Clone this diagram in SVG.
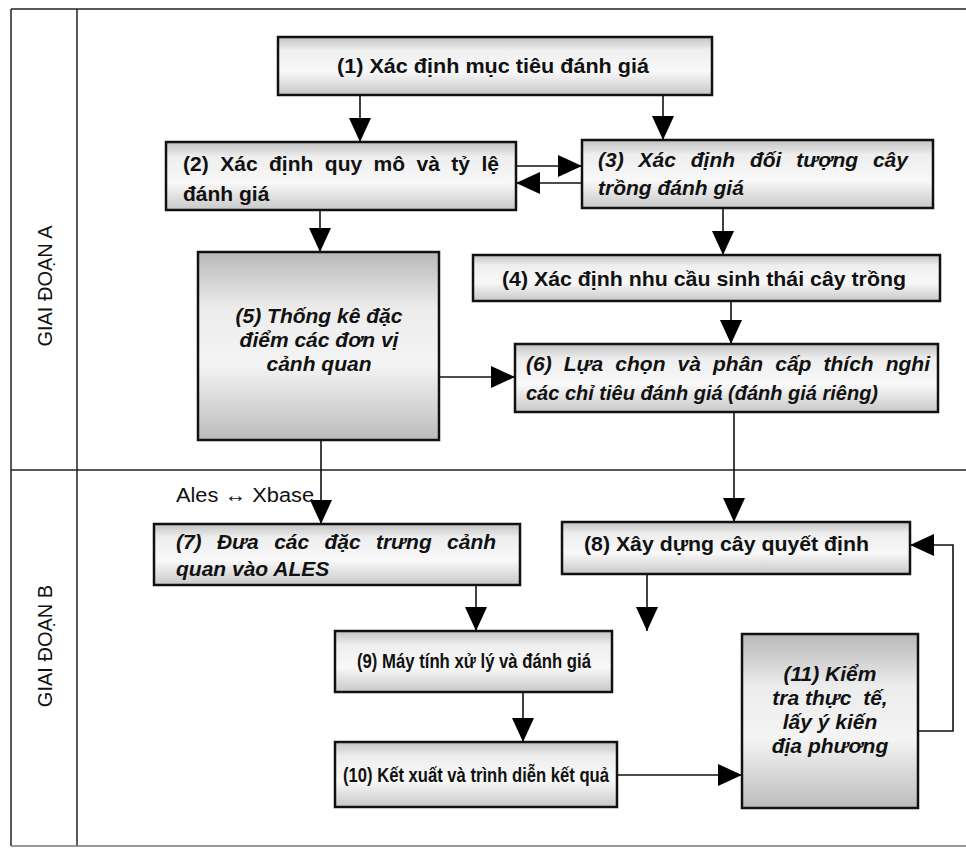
<svg xmlns="http://www.w3.org/2000/svg" width="966" height="848" viewBox="0 0 966 848">
<defs>
<linearGradient id="gfill" x1="0" y1="0" x2="0" y2="1">
<stop offset="0" stop-color="#c2c2c2"/>
<stop offset="0.22" stop-color="#eeeeee"/>
<stop offset="0.6" stop-color="#f8f8f8"/>
<stop offset="1" stop-color="#c8c8c8"/>
</linearGradient>
<linearGradient id="gfill2" x1="0" y1="0" x2="0" y2="1">
<stop offset="0" stop-color="#b8b8b8"/>
<stop offset="0.3" stop-color="#ececec"/>
<stop offset="0.6" stop-color="#f4f4f4"/>
<stop offset="1" stop-color="#bcbcbc"/>
</linearGradient>
<marker id="ah" markerUnits="userSpaceOnUse" markerWidth="24" markerHeight="22" refX="24" refY="11" orient="auto">
<path d="M0,0 L24,11 L0,22 z" fill="#000"/>
</marker>
</defs>
<style>
.box{fill:url(#gfill);stroke:#111;stroke-width:2.5}
.big{fill:url(#gfill2)}
.t{font-family:"Liberation Sans",Arial,sans-serif;font-size:21px;font-weight:bold;fill:#111}
.s{font-family:"Liberation Sans Narrow","Arial Narrow","Liberation Sans",sans-serif;font-size:21px}
.i{font-style:italic}
.c{text-anchor:middle}
.lane{stroke:#222;stroke-width:1.5;fill:none}
.lab{font-family:"Liberation Sans",Arial,sans-serif;font-size:20px;fill:#111}
.conn line,.conn polyline{stroke:#111;stroke-width:1.6;fill:none;marker-end:url(#ah)}
</style>
<rect width="966" height="848" fill="#fff"/>
<g id="lanes">
<line class="lane" x1="11" y1="9" x2="966" y2="9"/>
<line class="lane" x1="11" y1="9" x2="11" y2="846"/>
<line class="lane" x1="77" y1="9" x2="77" y2="846"/>
<line class="lane" x1="11" y1="470" x2="966" y2="470"/>
<line class="lane" x1="11" y1="846" x2="966" y2="846" style="stroke:#777"/>
<text class="lab c" transform="translate(52,286) rotate(-90)">GIAI ĐOẠN A</text>
<text class="lab c" transform="translate(52,646) rotate(-90)">GIAI ĐOẠN B</text>
</g>
<g class="conn" id="connectors">
<line x1="360" y1="95" x2="360" y2="142"/>
<line x1="663" y1="95" x2="663" y2="140"/>
<line x1="516" y1="166" x2="582" y2="166"/>
<line x1="582" y1="183" x2="516" y2="183"/>
<line x1="320" y1="210" x2="320" y2="252"/>
<line x1="723" y1="208" x2="723" y2="255"/>
<line x1="731" y1="301" x2="731" y2="344"/>
<line x1="439" y1="377" x2="515" y2="377"/>
<line x1="321" y1="440" x2="321" y2="524"/>
<line x1="734" y1="412" x2="734" y2="522"/>
<line x1="476" y1="585" x2="476" y2="631"/>
<line x1="647" y1="574" x2="647" y2="631"/>
<line x1="523" y1="692" x2="523" y2="742"/>
<line x1="617" y1="775" x2="742" y2="775"/>
<polyline points="918,731 953,731 953,545 910,545"/>
</g>
<text class="lab" x="176" y="502" textLength="138" lengthAdjust="spacingAndGlyphs">Ales ↔ Xbase</text>
<g id="n1"><rect class="box" x="278" y="37" width="434" height="58"/>
<text class="t c" x="493" y="73" textLength="312" lengthAdjust="spacingAndGlyphs">(1) Xác định mục tiêu đánh giá</text></g>
<g id="n2"><rect class="box" x="166" y="142" width="350" height="68"/>
<text class="t" x="183" y="171" style="word-spacing:5.5px" textLength="316" lengthAdjust="spacing">(2) Xác định quy mô và tỷ lệ</text>
<text class="t" x="183" y="201">đánh giá</text></g>
<g id="n3"><rect class="box" x="582" y="140" width="351" height="68"/>
<text class="t i" x="598" y="167" style="word-spacing:9px" textLength="310" lengthAdjust="spacing">(3) Xác định đối tượng cây</text>
<text class="t i" x="598" y="195">trồng đánh giá</text></g>
<g id="n4"><rect class="box" x="473" y="255" width="467" height="46"/>
<text class="t c" x="704" y="286" textLength="404" lengthAdjust="spacingAndGlyphs">(4) Xác định nhu cầu sinh thái cây trồng</text></g>
<g id="n5"><rect class="box big" x="198" y="252" width="241" height="188"/>
<text class="t i c" x="319" y="323">(5) Thống kê đặc</text>
<text class="t i c" x="319" y="347">điểm các đơn vị</text>
<text class="t i c" x="319" y="371">cảnh quan</text></g>
<g id="n6"><rect class="box" x="515" y="344" width="423" height="68"/>
<text class="t i" x="526" y="371" style="word-spacing:6.3px" textLength="404" lengthAdjust="spacing">(6) Lựa chọn và phân cấp thích nghi</text>
<text class="t i" x="526" y="400" textLength="352" lengthAdjust="spacingAndGlyphs">các chỉ tiêu đánh giá (đánh giá riêng)</text></g>
<g id="n7"><rect class="box" x="154" y="524" width="366" height="61"/>
<text class="t i" x="176" y="549" style="word-spacing:9.6px" textLength="320" lengthAdjust="spacing">(7) Đưa các đặc trưng cảnh</text>
<text class="t i" x="176" y="576">quan vào ALES</text></g>
<g id="n8"><rect class="box" x="562" y="522" width="348" height="52"/>
<text class="t" x="584" y="551" textLength="285" lengthAdjust="spacingAndGlyphs">(8) Xây dựng cây quyết định</text></g>
<g id="n9"><rect class="box" x="335" y="631" width="277" height="61"/>
<text class="t s c" x="474" y="668" textLength="234" lengthAdjust="spacingAndGlyphs">(9) Máy tính xử lý và đánh giá</text></g>
<g id="n10"><rect class="box" x="335" y="742" width="282" height="65"/>
<text class="t s c" x="476" y="782" textLength="266" lengthAdjust="spacingAndGlyphs">(10) Kết xuất và trình diễn kết quả</text></g>
<g id="n11"><rect class="box big" x="742" y="634" width="176" height="174"/>
<text class="t i c" x="830" y="681">(11) Kiểm</text>
<text class="t i c" x="830" y="705" xml:space="preserve">tra thực  tế,</text>
<text class="t i c" x="830" y="729">lấy ý kiến</text>
<text class="t i c" x="830" y="753">địa phương</text></g>
</svg>
